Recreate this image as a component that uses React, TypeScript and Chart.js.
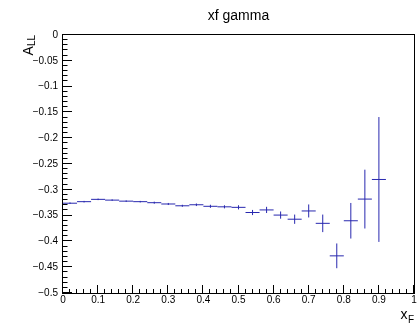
import React, { useEffect, useRef } from "react";
import { Chart, registerables } from "chart.js";

Chart.register(...registerables);

// ---- data ----
const binCenters = [
  0.02, 0.06, 0.1, 0.14, 0.18, 0.22, 0.26, 0.3, 0.34, 0.38, 0.42, 0.46,
  0.5, 0.54, 0.58, 0.62, 0.66, 0.7, 0.74, 0.78, 0.82, 0.86, 0.9,
];
const asymValues = [
  -0.326, -0.323, -0.3185, -0.32, -0.322, -0.323, -0.325, -0.3275, -0.331,
  -0.329, -0.332, -0.333, -0.334, -0.344, -0.339, -0.349, -0.357, -0.341,
  -0.365, -0.428, -0.36, -0.318, -0.28,
];
const asymErrors = [
  0.0015, 0.0015, 0.0015, 0.0015, 0.0015, 0.0015, 0.002, 0.002, 0.002,
  0.0025, 0.003, 0.003, 0.004, 0.005, 0.006, 0.007, 0.009, 0.0126, 0.017,
  0.024, 0.0345, 0.057, 0.121,
];
const binHalfWidth = 0.02;

const titleText = "xf gamma";
const yTitleMain = "A";
const yTitleSub = "LL";
const xTitleMain = "x";
const xTitleSub = "F";

const FONT = '"Liberation Sans", Arial, Helvetica, sans-serif';
const MARK = "rgb(40,40,175)";

const fmt = (v: number) => {
  const r = Math.round(v * 100) / 100;
  if (r === 0) return "0";
  return r < 0 ? "\u2212" + String(-r) : String(r);
};

const rootStyle = {
  id: "rootStyle",
  afterDatasetsDraw(chart: any) {
    const { ctx, chartArea: a, scales } = chart;
    const x = scales.x;
    const y = scales.y;
    ctx.save();
    ctx.beginPath();
    ctx.rect(a.left, a.top, a.right - a.left, a.bottom - a.top);
    ctx.clip();
    ctx.strokeStyle = MARK;
    ctx.lineWidth = 1;
    const pts = chart.data.datasets[0].data as { x: number; y: number }[];
    pts.forEach((p, i) => {
      const err = asymErrors[i];
      const px = x.getPixelForValue(p.x);
      const py = y.getPixelForValue(p.y);
      ctx.beginPath();
      ctx.moveTo(x.getPixelForValue(p.x - binHalfWidth), py);
      ctx.lineTo(x.getPixelForValue(p.x + binHalfWidth), py);
      ctx.moveTo(px, y.getPixelForValue(p.y + err));
      ctx.lineTo(px, y.getPixelForValue(p.y - err));
      ctx.stroke();
    });
    ctx.restore();
  },
  afterDraw(chart: any) {
    const { ctx, chartArea: a, scales } = chart;
    const x = scales.x;
    const y = scales.y;
    ctx.save();
    ctx.strokeStyle = "#000";
    ctx.lineWidth = 1;
    // frame
    ctx.strokeRect(a.left - 0.5, a.top - 0.5, a.right - a.left + 1, a.bottom - a.top + 1);
    // y ticks (inward), minor every 0.01
    ctx.beginPath();
    for (let i = 0; i <= 50; i++) {
      const v = -0.5 + i * 0.01;
      const py = Math.round(y.getPixelForValue(v)) - 0.5;
      const len = i % 5 === 0 ? 9 : 4.5;
      ctx.moveTo(a.left, py);
      ctx.lineTo(a.left + len, py);
    }
    // x ticks (inward), minor every 0.02
    for (let i = 0; i <= 50; i++) {
      const v = i * 0.02;
      const px = Math.round(x.getPixelForValue(v)) - 0.5;
      const len = i % 5 === 0 ? 8 : 4;
      ctx.moveTo(px, a.bottom);
      ctx.lineTo(px, a.bottom - len);
    }
    ctx.stroke();

    ctx.fillStyle = "#000";
    // title
    ctx.font = `14px ${FONT}`;
    ctx.textAlign = "center";
    ctx.textBaseline = "alphabetic";
    ctx.fillText(titleText, (a.left + a.right) / 2, 19.5);

    // x title (right aligned at frame end)
    ctx.font = `10px ${FONT}`;
    const wSubX = ctx.measureText(xTitleSub).width;
    ctx.textAlign = "left";
    ctx.fillText(xTitleSub, a.right - wSubX, 322.5);
    ctx.font = `14px ${FONT}`;
    const wMainX = ctx.measureText(xTitleMain).width;
    ctx.fillText(xTitleMain, a.right - wSubX - wMainX - 0.5, 318.5);

    // y title (rotated, ending at frame top)
    ctx.save();
    ctx.translate(33, a.top);
    ctx.rotate(-Math.PI / 2);
    ctx.font = `10px ${FONT}`;
    const wSubY = ctx.measureText(yTitleSub).width;
    ctx.textAlign = "left";
    ctx.fillText(yTitleSub, -wSubY, 2);
    ctx.font = `14px ${FONT}`;
    const wMainY = ctx.measureText(yTitleMain).width;
    ctx.fillText(yTitleMain, -wSubY - wMainY, 0);
    ctx.restore();

    ctx.restore();
  },
};

export default function App() {
  const ref = useRef<HTMLCanvasElement | null>(null);
  useEffect(() => {
    if (!ref.current) return;
    const chart = new Chart(ref.current, {
      type: "scatter",
      data: {
        datasets: [
          {
            data: binCenters.map((c, i) => ({ x: c, y: asymValues[i] })),
            pointRadius: 0,
            showLine: false,
            borderColor: MARK,
          },
        ],
      },
      options: {
        animation: false,
        responsive: false,
        devicePixelRatio: 1,
        layout: { padding: { top: 35, right: 5, left: 0, bottom: 0 } },
        plugins: {
          legend: { display: false },
          tooltip: { enabled: false },
          title: { display: false },
        },
        scales: {
          x: {
            type: "linear",
            min: 0,
            max: 1,
            grid: { display: false, drawTicks: false },
            border: { display: false },
            ticks: {
              stepSize: 0.1,
              color: "#000",
              padding: 1,
              font: { family: FONT, size: 10 },
              maxRotation: 0,
              callback: (v: any) => fmt(Number(v)),
            },
            afterFit: (s: any) => {
              s.height = 34;
            },
          },
          y: {
            type: "linear",
            min: -0.5,
            max: 0,
            grid: { display: false, drawTicks: false },
            border: { display: false },
            ticks: {
              stepSize: 0.05,
              color: "#000",
              padding: 5,
              font: { family: FONT, size: 10 },
              callback: (v: any) => fmt(Number(v)),
            },
            afterFit: (s: any) => {
              s.width = 63;
            },
          },
        },
      },
      plugins: [rootStyle],
    });
    return () => chart.destroy();
  }, []);
  return (
    <div style={{ position: "absolute", left: 0, top: 0, width: 419, height: 327, background: "#fff" }}>
      <canvas ref={ref} width={419} height={327} style={{ display: "block" }} />
    </div>
  );
}
